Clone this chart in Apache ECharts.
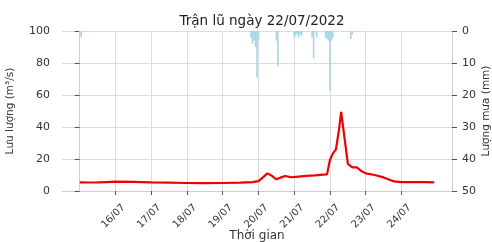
<!DOCTYPE html>
<html>
<head>
<meta charset="utf-8">
<script src="https://cdn.jsdelivr.net/npm/echarts@6/dist/echarts.min.js"></script>
<style>html,body{margin:0;padding:0;background:#fff}#c{width:492px;height:242px}</style>
</head>
<body>
<div id="c"></div>
<script>
// hours since 15/07/2022 00:00
const dayTicks = [24, 48, 72, 96, 120, 144, 168, 192, 216];
const dayLabels = ['16/07', '17/07', '18/07', '19/07', '20/07', '21/07', '22/07', '23/07', '24/07'];

const flowTime = [0, 6, 12, 18, 24, 36, 48, 60, 72, 84, 96, 108, 116, 120, 123, 126, 129, 132, 135, 138, 142, 147, 152, 158, 163, 166, 168, 170, 172, 174, 175.5, 180, 183, 186, 189, 192, 198, 204, 208, 211, 216, 226, 233, 238];
const flowValue = [5.4, 5.3, 5.4, 5.6, 5.8, 5.7, 5.4, 5.2, 5.0, 4.9, 5.0, 5.2, 5.5, 6.2, 8.5, 11, 9.5, 7.3, 8.5, 9.4, 8.6, 9.0, 9.4, 9.8, 10.2, 10.4, 19.5, 23.5, 26, 38, 49.5, 17, 14.8, 14.8, 12.5, 11, 10, 8.5, 7, 6, 5.6, 5.5, 5.6, 5.4];

const rainTime = [0, 1, 115, 116, 117, 118, 119, 120, 132, 133, 144, 145, 146, 147, 148, 149, 156, 157, 159, 165, 166, 167, 168, 169, 170, 182, 183];
const rainValue = [1.5, 2, 2, 4, 3, 5, 14.5, 3, 3, 11, 2, 1.5, 1, 2, 1, 1.5, 2, 8.5, 2, 2, 2.5, 3, 18.5, 3, 2, 2.5, 1];

const font = 'DejaVu Sans';
const chart = echarts.init(document.getElementById('c'));
chart.setOption({
  animation: false,
  title: {
    text: 'Trận lũ ngày 22/07/2022',
    left: 257, top: 9, textAlign: 'center',
    textStyle: {fontFamily: font, fontSize: 13.5, fontWeight: 'normal', color: '#222'}
  },
  grid: {left: 62, right: 40, top: 31, bottom: 51, containLabel: false, outerBoundsMode: 'none'},
  xAxis: {
    type: 'value', min: -11.9, max: 249.9,
    name: 'Thời gian', nameLocation: 'middle', nameGap: 39, nameMoveOverlap: false,
    nameTextStyle: {fontFamily: font, fontSize: 12, color: '#333'},
    axisLine: {show: true, lineStyle: {color: '#cfcfcf'}},
    axisTick: {show: true, customValues: dayTicks, length: 4, lineStyle: {color: '#555'}},
    axisLabel: {
      customValues: dayTicks, rotate: 45, margin: 23,
      align: 'center', verticalAlign: 'middle', padding: [0, 6, 6, 0],
      fontFamily: font, fontSize: 10, color: '#333',
      formatter: v => dayLabels[dayTicks.indexOf(Math.round(v))] || ''
    },
    splitLine: {show: true, lineStyle: {color: '#dcdcdc'}}
  },
  yAxis: [{
    type: 'value', min: 0, max: 100, interval: 20,
    name: 'Lưu lượng (m³/s)', nameLocation: 'middle', nameGap: 46, nameMoveOverlap: false,
    nameTextStyle: {fontFamily: font, fontSize: 10.5, color: '#333'},
    axisLine: {show: true, lineStyle: {color: '#cfcfcf'}},
    axisTick: {show: true, length: 5, lineStyle: {color: '#555'}},
    axisLabel: {margin: 12, fontFamily: font, fontSize: 11, color: '#333'},
    splitLine: {show: true, lineStyle: {color: '#dcdcdc'}}
  }, {
    type: 'value', min: 0, max: 50, interval: 10, inverse: true, position: 'right',
    name: 'Lượng mưa (mm)', nameLocation: 'middle', nameGap: 29, nameMoveOverlap: false,
    nameTextStyle: {fontFamily: font, fontSize: 10.5, color: '#333'},
    axisLine: {show: true, lineStyle: {color: '#cfcfcf'}},
    axisTick: {show: true, length: 5, lineStyle: {color: '#555'}},
    axisLabel: {margin: 10, fontFamily: font, fontSize: 11, color: '#333'},
    splitLine: {show: false}
  }],
  series: [{
    type: 'bar', yAxisIndex: 1, barWidth: 1.6,
    itemStyle: {color: '#a8d6e2'},
    data: rainTime.map((t, i) => [t, rainValue[i]])
  }, {
    type: 'line', yAxisIndex: 0, symbol: 'none',
    lineStyle: {color: '#ee0000', width: 2.2},
    data: flowTime.map((t, i) => [t, flowValue[i]])
  }]
});
</script>
</body>
</html>
